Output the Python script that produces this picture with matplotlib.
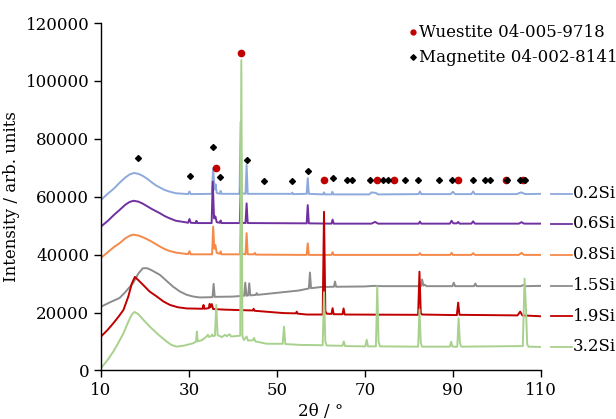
import matplotlib
matplotlib.use("Agg")
import matplotlib.pyplot as plt

plt.rcParams['font.family'] = ['DejaVu Serif']

# ---------------- data ----------------
labels = ["0.2Si", "0.6Si", "0.8Si", "1.5Si", "1.9Si", "3.2Si"]
colors = ["#8EA9DB", "#7030A0", "#F4894A", "#8C8C8C", "#C00000", "#A9D18E"]

s02 = [(10, 58900), (11.5, 61000), (13, 62900), (14.2, 64800), (15.5, 66600), (16.5, 67700),
       (17.5, 68200), (18.5, 67900), (19.5, 67200), (20.5, 66200), (21.5, 65000), (22.5, 63900),
       (23.5, 63100), (24.5, 62300), (25.5, 61800), (27, 61200), (29.8, 60900), (30.1, 61800),
       (30.4, 60900), (35.2, 61000), (35.5, 69900), (35.8, 62500), (36.05, 64300), (36.3, 61300),
       (37.0, 61000), (37.2, 62000), (37.4, 61000), (41.5, 61000), (41.75, 85900), (42.0, 61200),
       (42.85, 61000), (43.1, 71000), (43.35, 61000), (53.3, 61000), (53.5, 61400), (53.7, 60900),
       (56.75, 61000), (57.0, 66400), (57.25, 61000), (60.5, 60800), (60.7, 61500), (60.9, 60800),
       (62.4, 60800), (62.6, 61700), (62.8, 60800), (71, 60800), (71.5, 61500), (72.5, 61300),
       (73, 60800), (82.2, 60900), (82.5, 61800), (82.8, 60900), (89.5, 60900), (90, 61700),
       (90.5, 60900), (94.2, 60900), (94.6, 61800), (95, 60900), (104.5, 60900), (105.5, 61500),
       (106.5, 60900), (110, 61000)]

s06 = [(10, 49700), (11.5, 51600), (13, 53800), (14.2, 55400), (15.5, 57200), (16.5, 58200),
       (17.4, 58600), (18.5, 58300), (19.5, 57600), (20.5, 56700), (21.5, 55800), (22.5, 55000),
       (23.5, 54200), (24.5, 53300), (25.5, 52600), (27, 51700), (29.5, 51100), (29.8, 51000),
       (30.1, 52300), (30.4, 51000), (31.5, 50900), (31.7, 51700), (31.9, 50900), (35.15, 50900),
       (35.4, 65200), (35.7, 52500), (36.0, 53200), (36.3, 51200), (37.0, 51000), (37.2, 51800),
       (37.4, 50900), (41.55, 50900), (41.8, 63500), (42.05, 51000), (42.85, 50900), (43.1, 57700),
       (43.35, 50900), (56.75, 50800), (57.0, 57100), (57.25, 50800), (62.4, 50700), (62.65, 52100),
       (62.9, 50700), (71.5, 50700), (72.3, 51300), (73, 50700), (82.2, 50700), (82.5, 51400),
       (82.8, 50700), (89.3, 50700), (89.7, 51700), (90.1, 50800), (90.9, 50800), (91.2, 51300),
       (91.5, 50700), (94.2, 50700), (94.6, 51500), (95.0, 50700), (105, 50700), (105.6, 51200),
       (106.2, 50700), (110, 50700)]

s08 = [(10, 38900), (11.5, 40800), (13, 42700), (14.2, 43900), (15.5, 45600), (16.5, 46500),
       (17.3, 46900), (18.5, 46600), (19.5, 46000), (20.5, 45300), (21.5, 44500), (22.5, 43600),
       (23.5, 42700), (24.5, 41900), (25.5, 41300), (27, 40700), (29.5, 40200), (29.8, 40200),
       (30.1, 41200), (30.4, 40100), (35.25, 40100), (35.5, 49700), (35.75, 42000), (36.0, 43300),
       (36.3, 40600), (37.0, 40300), (37.2, 41100), (37.4, 40100), (41.6, 40100), (41.85, 54500),
       (42.1, 40300), (42.85, 40100), (43.1, 47400), (43.35, 40100), (44.8, 40100), (45.0, 40600),
       (45.2, 40000), (56.75, 39900), (57.0, 43900), (57.25, 39900), (62.4, 39900), (62.65, 40800),
       (62.9, 39900), (82.2, 39900), (82.5, 40500), (82.8, 39900), (89.4, 39900), (89.7, 40600),
       (90.0, 39900), (94.2, 39900), (94.6, 40500), (95.0, 39900), (105, 39900), (105.6, 40600),
       (106.2, 39900), (110, 39900)]

s15 = [(10, 22000), (12, 23500), (14.2, 25000), (15.5, 27000), (17.3, 30200), (18.5, 33500),
       (19.5, 35300), (20.5, 35300), (21.5, 34600), (23.4, 33000), (25, 30800), (26.4, 28900),
       (28, 27200), (29.5, 26100), (31, 25500), (32.5, 25200), (35.35, 25300), (35.6, 29900),
       (35.85, 25400), (40, 25500), (42.55, 25800), (42.8, 30300), (43.05, 25800), (43.45, 25900),
       (43.7, 30100), (43.95, 25900), (45.2, 26100), (45.4, 26700), (45.6, 26100), (50, 26800),
       (55, 27600), (57.25, 28300), (57.5, 33800), (57.75, 28400), (60, 28800), (62.95, 28900),
       (63.2, 30700), (63.45, 28900), (70, 29000), (72, 29200), (74, 29100), (82.75, 29100),
       (83.0, 31400), (83.3, 29300), (83.6, 29600), (84, 29100), (89.9, 29100), (90.2, 30300),
       (90.5, 29100), (94.8, 29100), (95.1, 30000), (95.4, 29100), (105.5, 29100), (106.0, 29500),
       (106.5, 29100), (110, 29200)]

s19 = [(10, 11700), (11.5, 14000), (12.8, 16300), (14, 18600), (15.1, 20900), (16.2, 25500),
       (17.0, 30000), (17.7, 32300), (18.6, 31000), (19.6, 29500), (21, 27300), (22.7, 25500),
       (24.2, 23800), (25.7, 22600), (27.5, 21800), (29.5, 21400), (33.1, 21300), (33.3, 22600),
       (33.5, 21300), (34.5, 21500), (34.7, 23000), (34.9, 21800), (35.2, 22900), (35.5, 21200),
       (38, 21000), (40.1, 20900), (44.5, 20700), (44.7, 21300), (44.9, 20600), (51.5, 19800),
       (54.3, 19700), (54.5, 20300), (54.7, 19600), (56.8, 19300), (60.4, 19300), (60.7, 54800),
       (61.0, 20500), (61.3, 19600), (62.4, 19500), (62.65, 21500), (62.9, 19400), (64.9, 19400),
       (65.15, 21400), (65.4, 19300), (82.1, 19200), (82.4, 34100), (82.7, 19800), (83.0, 19300),
       (90.9, 19100), (91.2, 23400), (91.5, 19200), (104.7, 19000), (105.3, 20300), (105.8, 19000),
       (110, 18700)]

s32 = [(10, 800), (11.5, 3600), (12.8, 6500), (14, 9700), (15.1, 12800), (16.2, 16800),
       (17.0, 19300), (17.6, 20200), (18.5, 19400), (19.6, 17500), (21.1, 15100), (23, 12400),
       (24.9, 10000), (26, 8800), (27.2, 8200), (29, 8600), (31.0, 9400), (31.6, 10000),
       (31.8, 13400), (32.0, 10000), (33, 10500), (34, 11700), (34.3, 12300), (34.5, 11600),
       (35, 11800), (35.3, 12400), (35.5, 11800), (35.9, 12000), (36.2, 22600), (36.5, 12200),
       (37.5, 11500), (38.2, 12300), (38.6, 11800), (39.2, 12500), (39.6, 11700), (41.65, 12000),
       (41.9, 107200), (42.15, 11800), (42.5, 10500), (43.1, 11700), (43.4, 10300), (44.5, 10400),
       (44.8, 11200), (45.1, 10000), (47.7, 9200), (51.3, 9200), (51.6, 15100), (51.9, 9100),
       (55.3, 8800), (60.4, 8700), (60.7, 27000), (61.0, 10000), (61.3, 8600), (64.9, 8500),
       (65.2, 10000), (65.5, 8400), (70.1, 8300), (70.4, 10600), (70.7, 8300), (72.5, 8300),
       (72.8, 29000), (73.1, 10000), (73.4, 8300), (82.1, 8200), (82.4, 21000), (82.7, 9500),
       (83.0, 8200), (89.3, 8200), (89.6, 9900), (89.9, 8200), (91.0, 8200), (91.3, 18000),
       (91.6, 9500), (91.9, 8200), (105.9, 8400), (106.3, 31700), (106.6, 22000), (106.9, 9000),
       (107.2, 8200), (110, 8100)]

series = [s02, s06, s08, s15, s19, s32]

wuestite_tt = [36.1, 41.85, 60.6, 72.7, 76.5, 91.1, 102.15, 106.0]
wuestite_i = [69800, 109800, 65800, 65800, 65800, 65800, 65800, 65800]
magnetite_tt = [18.3, 30.2, 35.5, 37.1, 43.1, 47.1, 53.4, 57.0, 62.7, 65.9, 67.0, 71.05,
                74.1, 75.2, 79.2, 82.1, 86.75, 89.8, 94.6, 97.4, 98.5, 102.4, 105.2, 106.5]
magnetite_i = [73500, 67100, 77200, 66700, 72600, 65500, 65500, 68800, 66400, 65800, 65800,
               65800, 65800, 65800, 65800, 65800, 65800, 65800, 65800, 65800, 65800, 65800,
               65800, 65800]

# ---------------- figure ----------------
fig = plt.figure(figsize=(6.16, 4.19), dpi=100)
ax = fig.add_axes([0.164, 0.116, 0.714, 0.829])

for pts, col, lab in zip(series, colors, labels):
    xs = [p[0] for p in pts]
    ys = [p[1] for p in pts]
    ax.plot(xs, ys, color=col, lw=1.4, solid_joinstyle='round')
    yend = ys[-1]
    ax.plot([112.2, 117.0], [yend, yend], color=col, lw=1.3, clip_on=False)
    ax.text(117.3, yend, lab, fontsize=12, va='center', ha='left', clip_on=False)

ax.plot(wuestite_tt, wuestite_i, 'o', color='#C00000', ms=4.5, zorder=5, lw=0)
ax.plot(magnetite_tt, magnetite_i, 'D', color='black', ms=3.0, zorder=5, lw=0)

# legend-like annotations
ax.plot([81.0], [116900], 'o', color='#C00000', ms=3.5, clip_on=False)
ax.text(82.2, 116900, "Wuestite 04-005-9718", fontsize=12, va='center', ha='left')
ax.plot([81.0], [108200], 'D', color='black', ms=2.8, clip_on=False)
ax.text(82.2, 108200, "Magnetite 04-002-8141", fontsize=12, va='center', ha='left')

ax.set_xlim(10, 110)
ax.set_ylim(0, 120000)
ax.set_xticks(range(10, 111, 20))
ax.set_yticks(range(0, 120001, 20000))
ax.tick_params(labelsize=12, direction='out', length=5, width=1, colors='black')
for sp in ['top', 'right']:
    ax.spines[sp].set_visible(False)
for sp in ['left', 'bottom']:
    ax.spines[sp].set_linewidth(1)

ax.set_xlabel("2θ / °", fontsize=12, labelpad=3)
ax.set_ylabel("Intensity / arb. units", fontsize=12, labelpad=4)

fig.savefig("out.png", dpi=100)
